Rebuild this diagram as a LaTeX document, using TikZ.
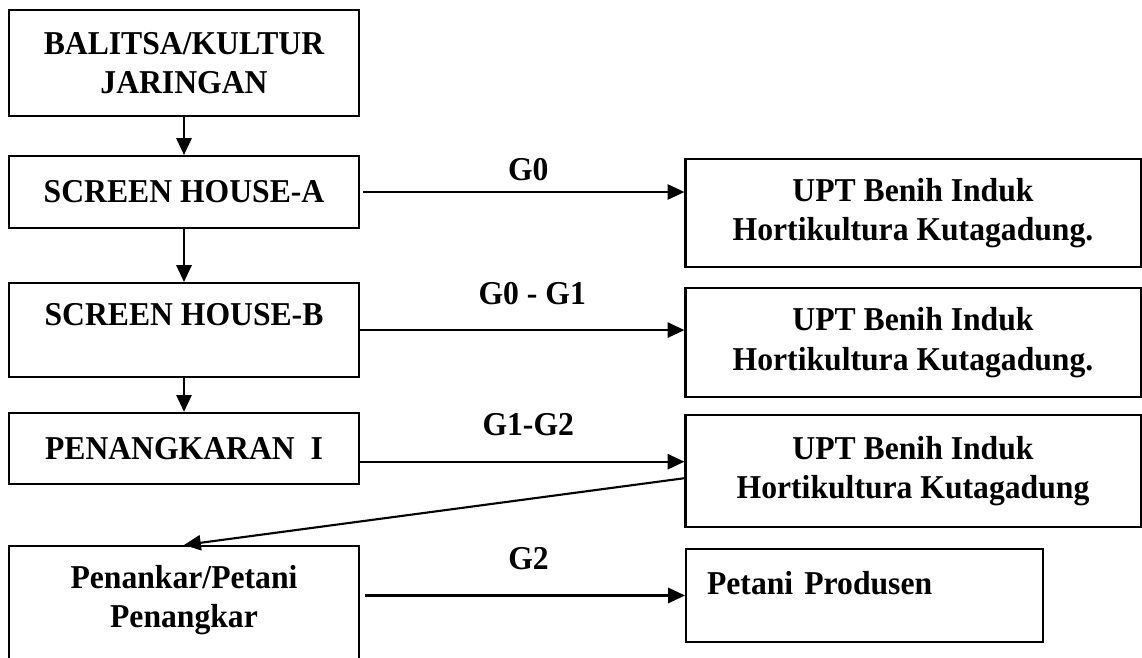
\documentclass[tikz,border=0pt]{standalone}
\usepackage{fontspec}
\setmainfont{Liberation Serif}[FakeStretch=0.95]
\usetikzlibrary{arrows.meta,positioning}

\tikzset{
  stage/.style={draw, line width=1.5pt, inner sep=0pt, align=center,
    font=\bfseries\fontsize{23.7pt}{28pt}\selectfont},
  gen/.style={inner sep=0pt, font=\bfseries\fontsize{23.7pt}{28pt}\selectfont},
  flow/.style={-{Triangle[length=4.2mm,width=3.8mm]}, line width=1.5pt},
}

\begin{document}
\begin{tikzpicture}[x=0.025cm, y=-0.025cm]
  \useasboundingbox (0,0) rectangle (1142,657);
  \clip (0,0) rectangle (1142,657);

  % left column
  \node[stage, minimum width=8.75cm, minimum height=2.65cm] (balitsa) at (184,63) {BALITSA/KULTUR\\JARINGAN};
  \node[stage, minimum width=8.75cm, minimum height=1.8cm] (housea) at (184,192) {SCREEN HOUSE-A};
  \node[stage, minimum width=8.75cm, text height=1.07cm, text depth=1.28cm, anchor=north] (houseb) at (184,282) {SCREEN HOUSE-B};
  \node[stage, minimum width=8.75cm, minimum height=1.78cm] (penangkaran) at (184,448.5) {PENANGKARAN~~I};
  \node[stage, minimum width=8.75cm, minimum height=3.5cm, anchor=north] (penangkar) at (184,545) {};
  \node[gen, align=center, below=0.5cm of penangkar.north] (penangkartext) {Penankar/Petani\\Penangkar};

  % right column
  \node[stage, minimum width=11.375cm, minimum height=2.7cm] (uptone) at (913,213) {UPT Benih Induk\\Hortikultura Kutagadung.};
  \node[stage, minimum width=11.375cm, minimum height=2.725cm] (uptwo) at (913,342.5) {UPT Benih Induk\\Hortikultura Kutagadung.};
  \node[stage, minimum width=11.375cm, minimum height=2.8cm] (upthree) at (913,471) {UPT Benih Induk\\Hortikultura Kutagadung};
  \node[stage, anchor=north west, align=left, text width=7.875cm, inner xsep=0.525cm,
        text height=1.14cm, text depth=1.18cm] (produsen) at (685,548) {Petani Produsen};

  % arrows
  \draw[flow] (balitsa) -- (housea);
  \draw[flow] (housea) -- (houseb);
  \draw[flow] (houseb) -- (penangkaran);
  \draw[flow, shorten <=0.08cm] (housea.east) -- (housea.east -| uptone.west)
    node[gen, midway, above=0.26cm, xshift=0.15cm] {G0};
  \draw[flow] (houseb.east) -- (houseb.east -| uptwo.west)
    node[gen, midway, above=0.61cm, xshift=0.25cm] {G0 - G1};
  \draw[flow] ([yshift=-0.33cm]penangkaran.east) -- ([yshift=-0.33cm]penangkaran.east -| upthree.west)
    node[gen, midway, above=0.61cm, xshift=0.15cm] {G1-G2};
  \draw[flow] ([yshift=-0.18cm]upthree.west) -- (penangkar.north);
  \draw[flow, shorten <=0.12cm] (penangkar.east |- produsen.west) -- (produsen.west)
    node[gen, midway, above=0.61cm, xshift=0.15cm] {G2};
\end{tikzpicture}
\end{document}
